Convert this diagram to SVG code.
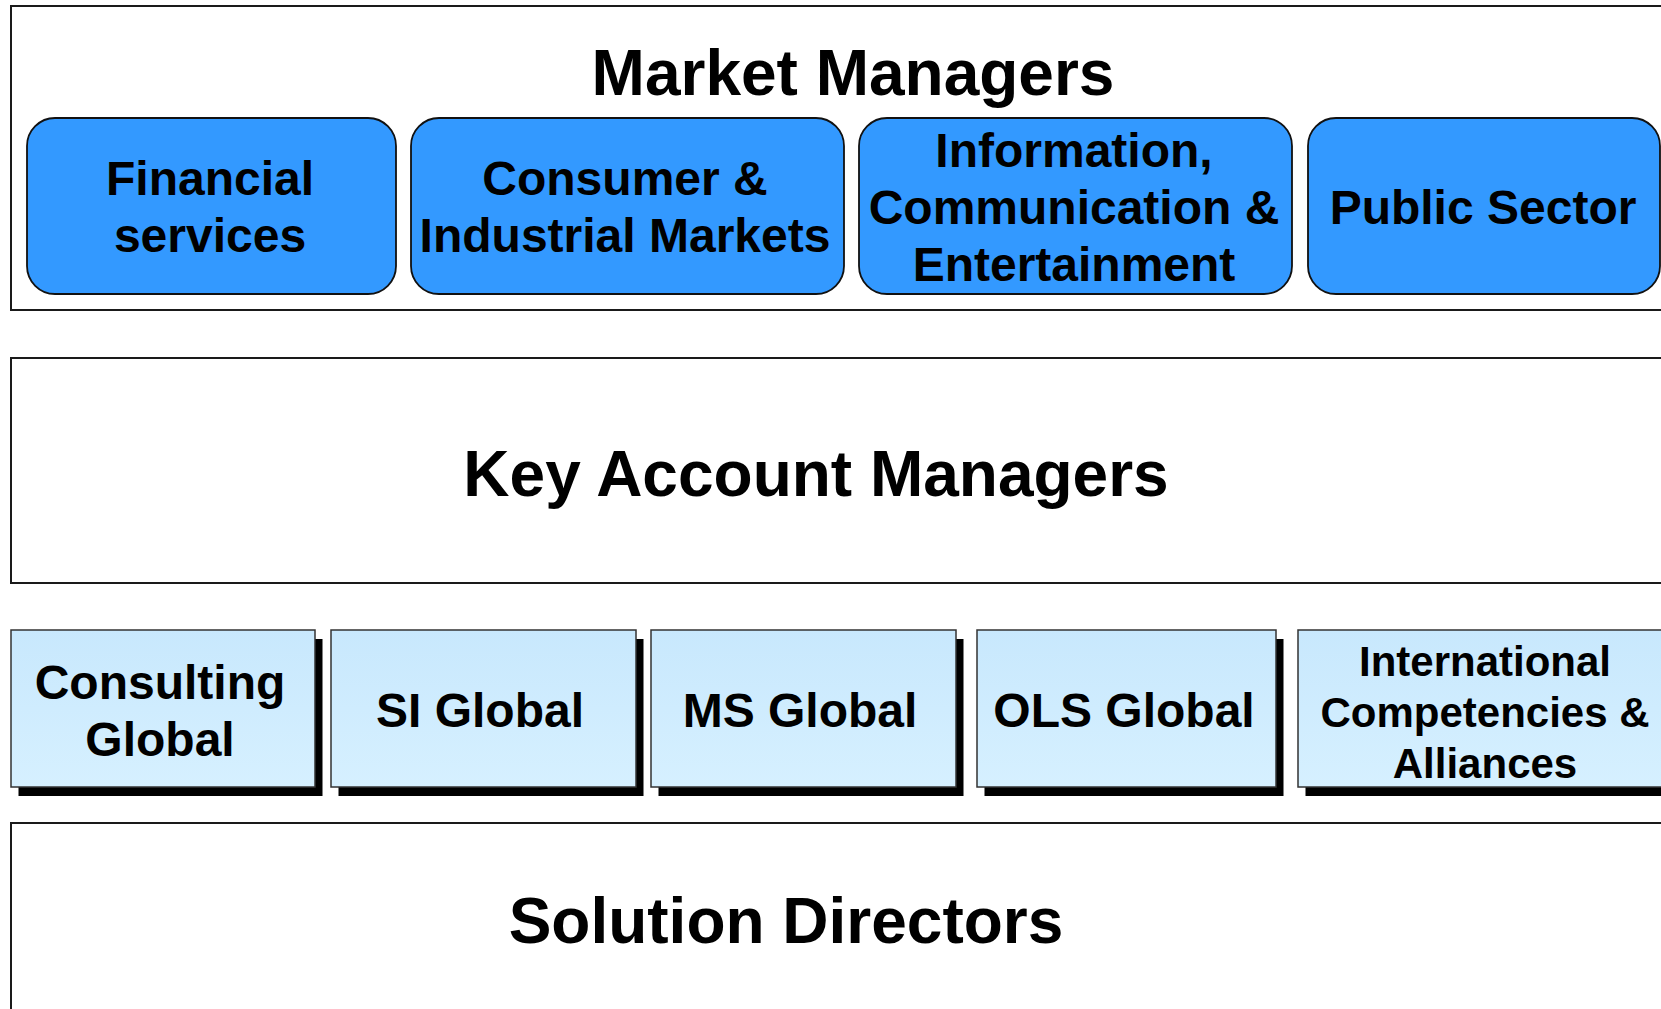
<svg xmlns="http://www.w3.org/2000/svg" width="1661" height="1009" viewBox="0 0 1661 1009">
<defs>
<linearGradient id="lb" x1="0" y1="0" x2="0" y2="1">
<stop offset="0" stop-color="#C8E8FD"/>
<stop offset="1" stop-color="#D6F0FF"/>
</linearGradient>
<style>
.frame{fill:#fff;stroke:#1a1a1a;stroke-width:2}
.blue{fill:#3399FF;stroke:#111;stroke-width:1.8}
.light{fill:url(#lb);stroke:#333;stroke-width:1.5}
.shadow{fill:#000}
text{font-family:"Liberation Sans",Arial,sans-serif;font-weight:bold;fill:#000;text-anchor:middle}
.big{font-size:64px}
.mid{font-size:48px}
.sm{font-size:42px}
</style>
</defs>
<rect width="1661" height="1009" fill="#fff"/>

<g id="market-managers">
<rect class="frame" x="11" y="6" width="1700" height="304"/>
<text class="big" x="853" y="95">Market Managers</text>
</g>
<g id="financial-services">
<rect class="blue" x="27" y="118" width="369" height="176" rx="28"/>
<text class="mid" x="210"><tspan x="210" y="195">Financial</tspan><tspan x="210" y="252">services</tspan></text>
</g>
<g id="consumer-industrial">
<rect class="blue" x="411" y="118" width="433" height="176" rx="28"/>
<text class="mid"><tspan x="625" y="195">Consumer &amp;</tspan><tspan x="625" y="252">Industrial Markets</tspan></text>
</g>
<g id="ice">
<rect class="blue" x="859" y="118" width="433" height="176" rx="28"/>
<text class="mid"><tspan x="1074" y="167">Information,</tspan><tspan x="1074" y="224">Communication &amp;</tspan><tspan x="1074" y="281">Entertainment</tspan></text>
</g>
<g id="public-sector">
<rect class="blue" x="1308" y="118" width="352" height="176" rx="28"/>
<text class="mid" x="1483" y="224">Public Sector</text>
</g>

<g id="key-account-managers">
<rect class="frame" x="11" y="358" width="1700" height="225"/>
<text class="big" x="816" y="496">Key Account Managers</text>
</g>

<g id="consulting-global">
<rect class="shadow" x="18.5" y="639" width="304" height="157"/>
<rect class="light" x="11" y="630" width="304" height="157"/>
<text class="mid"><tspan x="160" y="699">Consulting</tspan><tspan x="160" y="756">Global</tspan></text>
</g>
<g id="si-global">
<rect class="shadow" x="338.5" y="639" width="305" height="157"/>
<rect class="light" x="331" y="630" width="305" height="157"/>
<text class="mid" x="480" y="727">SI Global</text>
</g>
<g id="ms-global">
<rect class="shadow" x="658.5" y="639" width="305" height="157"/>
<rect class="light" x="651" y="630" width="305" height="157"/>
<text class="mid" x="800" y="727">MS Global</text>
</g>
<g id="ols-global">
<rect class="shadow" x="984.5" y="639" width="299" height="157"/>
<rect class="light" x="977" y="630" width="299" height="157"/>
<text class="mid" x="1124" y="727">OLS Global</text>
</g>
<g id="international">
<rect class="shadow" x="1305.5" y="639" width="400" height="157"/>
<rect class="light" x="1298" y="630" width="400" height="157"/>
<text class="sm"><tspan x="1485" y="676">International</tspan><tspan x="1485" y="727">Competencies &amp;</tspan><tspan x="1485" y="778">Alliances</tspan></text>
</g>

<g id="solution-directors">
<rect class="frame" x="11" y="823" width="1700" height="300"/>
<text class="big" x="786" y="943">Solution Directors</text>
</g>

<g id="connectors"></g>
</svg>
